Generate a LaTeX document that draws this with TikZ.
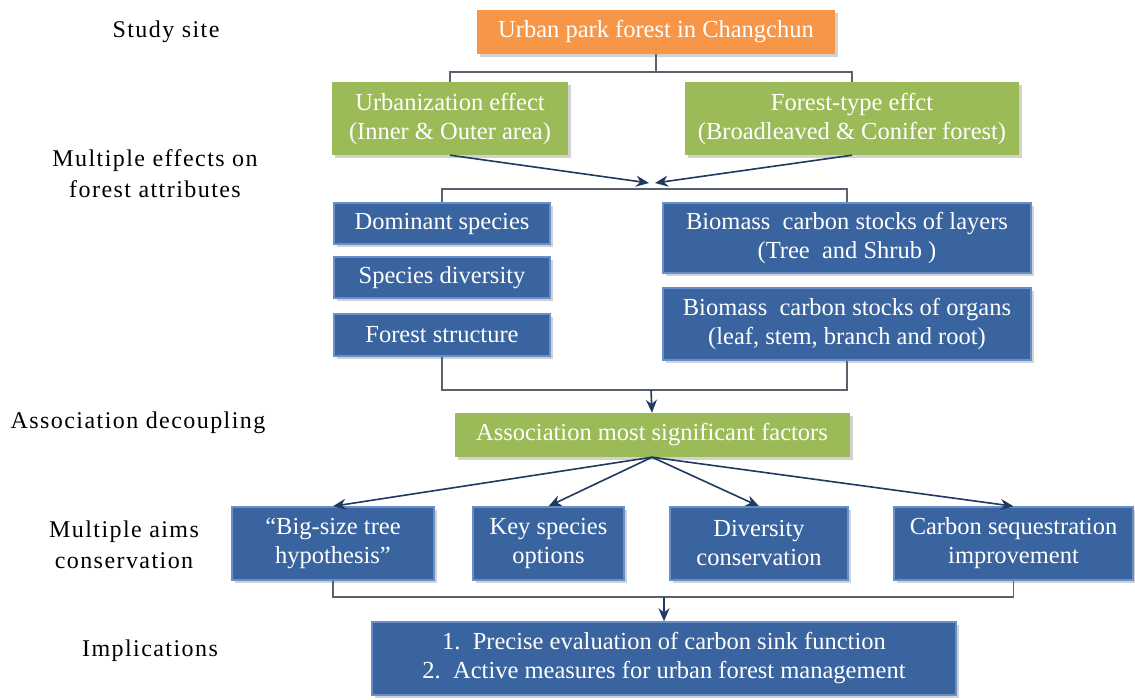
\documentclass[tikz,border=0pt]{standalone}
\usepackage{fontspec}
\setmainfont{Liberation Serif}
\newfontfamily\labelfont[LetterSpace=6]{Liberation Serif}
\usetikzlibrary{arrows.meta,shadows}
\definecolor{boxorange}{HTML}{F79646}
\definecolor{boxgreen}{HTML}{9BBB59}
\definecolor{boxblue}{HTML}{3A64A0}
\definecolor{boxblueedge}{HTML}{6A8FC8}
\definecolor{linegray}{HTML}{5A6270}
\definecolor{arrownavy}{HTML}{1F3A60}
\begin{document}
\begin{tikzpicture}[x=1pt,y=-1pt,
  base/.style={inner sep=0pt, align=center, text=white,
    font=\fontsize{24.5}{29}\selectfont,
    drop shadow={opacity=0.35, shadow xshift=3pt, shadow yshift=-3pt}},
  obox/.style={base, fill=boxorange},
  gbox/.style={base, fill=boxgreen},
  bbox/.style={base, fill=boxblue, draw=boxblueedge, line width=1.5pt},
  sidelabel/.style={align=center, text=black, font=\labelfont\fontsize{24}{31}\selectfont},
  link/.style={draw=linegray, line width=1.1pt},
  arr/.style={draw=arrownavy, line width=1.6pt, -{Stealth[length=13pt,width=11pt]}}
]
\useasboundingbox[fill=white] (0,0) rectangle (1135,699);

% side labels
\node[sidelabel] (lsite) at (166,32) {Study site};
\node[sidelabel] (leff) at (155,174) {Multiple effects on\\forest attributes};
\node[sidelabel] (lassoc) at (138,423) {Association decoupling};
\node[sidelabel] (laims) at (124,545) {Multiple aims\\conservation};
\node[sidelabel] (limpl) at (150,651) {Implications};

% boxes
\node[obox, minimum width=358pt, minimum height=44pt] (site) at (656,32) {Urban park forest in Changchun};
\node[gbox, minimum width=236pt, minimum height=73pt] (urb) at (450,118.5) {Urbanization effect\\(Inner \& Outer area)};
\node[gbox, minimum width=334pt, minimum height=73pt] (ftype) at (852,118.5) {Forest-type effct\\(Broadleaved \& Conifer forest)};

\node[bbox, minimum width=216pt, minimum height=41pt] (dom) at (442,223.5) {Dominant species};
\node[bbox, minimum width=216pt, minimum height=41pt] (div) at (442,277.5) {Species diversity};
\node[bbox, minimum width=216pt, minimum height=42pt] (struct) at (442,335) {Forest structure};
\node[bbox, minimum width=368pt, minimum height=70pt] (layers) at (847,238) {Biomass\ \ carbon stocks of layers\\(Tree\ \ and Shrub\ )};
\node[bbox, minimum width=368pt, minimum height=72pt] (organs) at (847,324) {Biomass\ \ carbon stocks of organs\\(leaf, stem, branch and root)};

\node[gbox, minimum width=395pt, minimum height=44pt] (assoc) at (652,435) {Association most significant factors};

\node[bbox, minimum width=202pt, minimum height=73pt] (big) at (333,543.5) {“Big-size tree\\hypothesis”};
\node[bbox, minimum width=151pt, minimum height=73pt] (key) at (548.5,543.5) {Key species\\options};
\node[bbox, minimum width=178pt, minimum height=73pt] (dcons) at (759,543.5) {Diversity\\conservation};
\node[bbox, minimum width=239pt, minimum height=73pt] (carb) at (1013.5,543.5) {Carbon sequestration\\improvement};

\node[bbox, minimum width=584pt, minimum height=73pt] (impl) at (664,658.5) {1.\ \ Precise evaluation of carbon sink function\\2.\ \ Active measures for urban forest management};

% connectors
\coordinate (split) at (656,72);
\draw[link] (site.south) -- (split);
\draw[link] (split) -| (urb.north);
\draw[link] (split) -| (ftype.north);

\coordinate (meetL) at (649,183);
\coordinate (meetR) at (655,183);
\draw[arr] (urb.south) -- (meetL);
\draw[arr] (ftype.south) -- (meetR);

\coordinate (attrtop) at (647,189);
\draw[link] (dom.north) |- (attrtop) -| (layers.north);

\coordinate (attrbot) at (651,390);
\draw[link] (struct.south) |- (attrbot) -| (organs.south);
\draw[arr] (attrbot) -- (assoc.north);

\draw[arr] (assoc.south) -- (big.north);
\draw[arr] (assoc.south) -- (key.north);
\draw[arr] (assoc.south) -- (dcons.north);
\draw[arr] (assoc.south) -- (carb.north);

\coordinate (aimbot) at (664,597);
\draw[link] (big.south) |- (aimbot) -| (carb.south);
\draw[arr] (aimbot) -- (impl.north);
\end{tikzpicture}
\end{document}
